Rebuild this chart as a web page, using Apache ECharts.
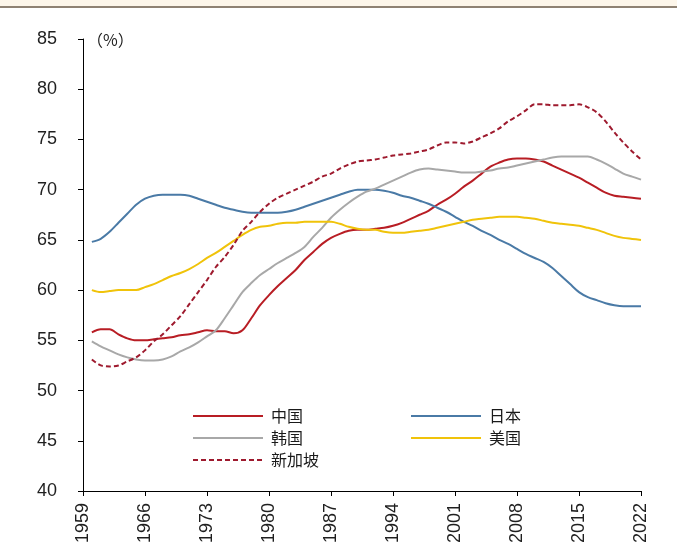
<!DOCTYPE html>
<html>
<head>
<meta charset="utf-8">
<script src="https://cdn.jsdelivr.net/npm/echarts@6/dist/echarts.min.js"></script>
<style>html,body{margin:0;padding:0;background:#fff}#c{width:677px;height:553px}</style>
</head>
<body>
<div id="c"></div>
<script>
// Years 1959-2022 (category axis); data start 1960
var firstYear = 1959, lastYear = 2022;
var years = [];
for (var y = firstYear; y <= lastYear; y++) years.push(String(y));

var yTicks = [40, 45, 50, 55, 60, 65, 70, 75, 80, 85];

// 1960..2022
var china = [55.8,56.1,56.1,55.6,55.2,55.0,55.0,55.1,55.2,55.3,55.5,55.6,55.8,56.0,55.9,55.9,55.7,56.0,57.2,58.5,59.5,60.4,61.2,62.0,63.0,63.8,64.6,65.2,65.6,65.9,66.0,66.0,66.1,66.2,66.4,66.7,67.1,67.5,67.9,68.5,69.0,69.6,70.3,70.9,71.6,72.3,72.7,73.0,73.1,73.1,73.0,72.8,72.4,72.0,71.6,71.2,70.7,70.2,69.7,69.4,69.3,69.2,69.1];
var japan = [64.8,65.1,65.8,66.7,67.6,68.5,69.1,69.4,69.5,69.5,69.5,69.4,69.1,68.8,68.5,68.2,68.0,67.8,67.7,67.7,67.7,67.7,67.8,68.0,68.3,68.6,68.9,69.2,69.5,69.8,70.0,70.0,70.0,69.9,69.7,69.4,69.2,68.9,68.6,68.2,67.8,67.3,66.8,66.4,65.9,65.5,65.0,64.6,64.1,63.6,63.2,62.8,62.2,61.4,60.6,59.8,59.3,59.0,58.7,58.5,58.4,58.4,58.4];
var korea = [54.9,54.4,54.0,53.6,53.3,53.1,53.0,53.0,53.1,53.4,53.9,54.3,54.8,55.4,56.0,57.2,58.5,59.8,60.7,61.5,62.1,62.7,63.2,63.7,64.3,65.3,66.2,67.2,68.0,68.7,69.3,69.8,70.1,70.5,70.9,71.3,71.7,72.0,72.1,72.0,71.9,71.8,71.7,71.7,71.8,71.9,72.1,72.2,72.4,72.6,72.8,73.0,73.2,73.3,73.3,73.3,73.3,73.0,72.6,72.1,71.6,71.3,71.0];
var usa = [60.0,59.8,59.9,60.0,60.0,60.0,60.3,60.6,61.0,61.4,61.7,62.1,62.6,63.2,63.7,64.3,64.9,65.5,66.0,66.3,66.4,66.6,66.7,66.7,66.8,66.8,66.8,66.8,66.6,66.3,66.1,66.0,66.0,65.8,65.7,65.7,65.8,65.9,66.0,66.2,66.4,66.6,66.8,67.0,67.1,67.2,67.3,67.3,67.3,67.2,67.1,66.9,66.7,66.6,66.5,66.4,66.2,66.0,65.7,65.4,65.2,65.1,65.0];
var singapore = [53.1,52.5,52.4,52.5,52.9,53.3,54.0,54.9,55.6,56.5,57.4,58.6,59.8,61.0,62.3,63.3,64.5,65.9,66.8,67.8,68.6,69.2,69.6,70.0,70.4,70.8,71.3,71.6,72.1,72.5,72.8,72.9,73.0,73.2,73.4,73.5,73.6,73.8,74.0,74.4,74.7,74.7,74.6,74.8,75.2,75.6,76.1,76.8,77.3,77.9,78.5,78.5,78.4,78.4,78.4,78.5,78.2,77.7,76.8,75.7,74.7,73.8,73.0];

var names = ['中国', '日本', '韩国', '美国', '新加坡'];

function pad(arr) { return ['-'].concat(arr); }

var chart = echarts.init(document.getElementById('c'), null, {renderer: 'canvas'});
var numFont = 'Liberation Sans, Arial, sans-serif';
var cjkFont = 'Noto Sans CJK SC, sans-serif';

function line(name, data, color, dashed) {
  return {
    name: name, type: 'line', data: pad(data), smooth: 0.3,
    symbol: 'none', connectNulls: false,
    lineStyle: {color: color, width: 2, type: dashed ? [5, 3] : 'solid'},
    itemStyle: {color: color}
  };
}

function legendAt(data, left) {
  return {
    data: data, orient: 'vertical', left: left, top: 408, padding: 0,
    itemWidth: 70, itemHeight: 18, itemGap: 6,
    itemStyle: {opacity: 0, borderWidth: 0},
    textStyle: {fontSize: 16, color: '#1a1a1a', fontFamily: cjkFont, padding: [0, 0, 0, 3]}
  };
}

chart.setOption({
  animation: false,
  backgroundColor: '#ffffff',
  grid: {left: 83, right: 36, top: 39, bottom: 62, containLabel: false},
  xAxis: {
    type: 'category', data: years, boundaryGap: false,
    axisLine: {lineStyle: {color: '#000', width: 1}},
    axisTick: {show: true, interval: 6, length: 5, lineStyle: {color: '#000'}},
    axisLabel: {interval: 6, rotate: 90, margin: 12, fontSize: 18, color: '#1f1f1f', fontFamily: numFont},
    splitLine: {show: false}
  },
  yAxis: {
    type: 'value', min: yTicks[0], max: yTicks[yTicks.length - 1], interval: 5,
    axisLine: {show: true, lineStyle: {color: '#000', width: 1}},
    axisTick: {show: true, length: 5, lineStyle: {color: '#000'}},
    axisLabel: {margin: 26, fontSize: 18, color: '#1f1f1f', fontFamily: numFont},
    splitLine: {show: false}
  },
  legend: [
    legendAt([names[0], names[2], names[4]], 192),
    legendAt([names[1], names[3]], 410)
  ],
  graphic: [
    {type: 'rect', shape: {x: 0, y: 0, width: 677, height: 6}, style: {fill: '#fdf6ea'}},
    {type: 'rect', shape: {x: 0, y: 6, width: 677, height: 2}, style: {fill: '#8f8273'}},
    {type: 'text', left: 87, top: 32, style: {text: '（%）', fontSize: 16, fill: '#222', fontFamily: cjkFont}}
  ],
  series: [
    line(names[0], china, '#b81d24', false),
    line(names[1], japan, '#4a7aa6', false),
    line(names[2], korea, '#a8a8a8', false),
    line(names[3], usa, '#f0c30a', false),
    line(names[4], singapore, '#9e1a2e', true)
  ]
});
</script>
</body>
</html>
